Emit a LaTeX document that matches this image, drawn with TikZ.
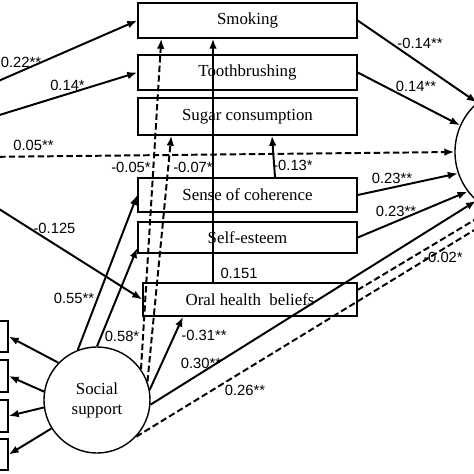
\documentclass[tikz,border=0pt]{standalone}
\usepackage{fontspec}
\setmainfont{Liberation Serif}
\setsansfont{Liberation Sans}
\usetikzlibrary{arrows.meta}

\begin{document}
\begin{tikzpicture}[x=0.025cm,y=-0.025cm,>={Latex[length=2.5mm,width=1.9mm]},
  box/.style={draw, line width=1pt, minimum width=54.75mm, inner sep=0pt, font=\fontsize{12}{14}\selectfont},
  lat/.style={draw, circle, line width=1pt, inner sep=0pt, align=center, font=\fontsize{12}{14.2}\selectfont},
  arr/.style={->, line width=1.4pt},
  darr/.style={->, line width=1.4pt, dash pattern=on 1.6mm off 0.8mm},
  lbl/.style={font=\fontsize{10.5}{12}\selectfont\sffamily, inner sep=0pt}]
\useasboundingbox (0,0) rectangle (474,474);
\clip (0,0) rectangle (474,474);
% mediators
\node[box, minimum height=8.75mm] (smoke) at (247.5,20.5) {Smoking};
\node[box, minimum height=8.75mm] (tooth) at (247.5,72.5) {Toothbrushing};
\node[box, minimum height=9.25mm] (sugar) at (247.5,116.5) {Sugar consumption};
\node[box, minimum height=8.5mm] (soc) at (247.5,195) {Sense of coherence};
\node[box, minimum height=7.75mm] (esteem) at (247.5,237.5) {Self-esteem};
\node[box, minimum width=53.5mm, minimum height=8.25mm] (belief) at (250,299.5) {Oral health~ beliefs};
% latent variables
\node[lat, minimum size=26.5mm] (ss) at (97,400) {Social\\support};
\node[lat, minimum size=32.5mm] (oh) at (520,152) {};
% indicators of social support
\node[box, minimum width=9.5mm, minimum height=7.75mm] (ind1) at (-11,336.5) {};
\node[box, minimum width=9.5mm, minimum height=8mm] (ind2) at (-11,376) {};
\node[box, minimum width=9.5mm, minimum height=8mm] (ind3) at (-11,416) {};
\node[box, minimum width=9.5mm, minimum height=7.75mm] (ind4) at (-11,454.5) {};
% free ends on the left
\coordinate (in1) at (-20,89);
\coordinate (in2) at (-20,121);
\coordinate (in3) at (-20,157);
\coordinate (in4) at (-20,197);

\draw[arr] (ss.136) -- (ind1.east);
\draw[arr] (ss.171) -- (ind2.east);
\draw[arr] (ss.188) -- (ind3.east);
\draw[arr] (ss.212) -- (ind4.east);

\draw[arr] (in1) -- (smoke.west);
\draw[arr] (in2) -- (tooth.west);
\draw[darr] (in3) -- (oh.180);
\draw[arr] (in4) -- (belief.west);

\draw[arr] (ss.111) -- (soc.west);
\draw[arr] (ss.90) -- ([yshift=-2.6mm]esteem.west);
\draw[darr] (ss.35) -- ([xshift=6mm]smoke.south west);
\draw[darr] (ss.20) -- ([xshift=8.5mm]sugar.south west);
\draw[arr] (ss.11) -- ([xshift=-16.75mm]belief.south);
\draw[arr] (ss.355) -- (oh.228);
\draw[darr] (ss.317) -- (oh.252);

\draw[arr] ([xshift=-9.25mm]belief.north) -- ([xshift=-8.625mm]smoke.south);
\draw[arr] ([xshift=6.875mm]soc.north) -- ([xshift=6.125mm]sugar.south);
\draw[darr] ([yshift=2.4mm]belief.east) -- (oh.243);

\draw[arr] (smoke.east) -- (oh.131);
\draw[arr] (tooth.east) -- (oh.156);
\draw[arr] (soc.east) -- (oh.199);
\draw[arr] (esteem.east) -- (oh.217);

% coefficients
\node[lbl] (w1) at (21,62) {0.22**};
\node[lbl] (w2) at (67.5,85) {0.14*};
\node[lbl] (w3) at (33.5,145) {0.05**};
\node[lbl] (w4) at (54.5,228) {-0.125};
\node[lbl] (w5) at (131,167) {-0.05*};
\node[lbl] (w6) at (193,167) {-0.07*};
\node[lbl] (w7) at (293,165) {-0.13*};
\node[lbl] (w8) at (392,178) {0.23**};
\node[lbl] (w9) at (396,211) {0.23**};
\node[lbl] (w10) at (239,273) {0.151};
\node[lbl] (w11) at (74,298) {0.55**};
\node[lbl] (w12) at (122,336) {0.58*};
\node[lbl] (w13) at (204,335) {-0.31**};
\node[lbl] (w14) at (201,363) {0.30**};
\node[lbl] (w15) at (245,390) {0.26**};
\node[lbl] (w16) at (443,257) {-0.02*};
\node[lbl] (w17) at (420,43) {-0.14**};
\node[lbl] (w18) at (416,86) {0.14**};
\end{tikzpicture}
\end{document}
